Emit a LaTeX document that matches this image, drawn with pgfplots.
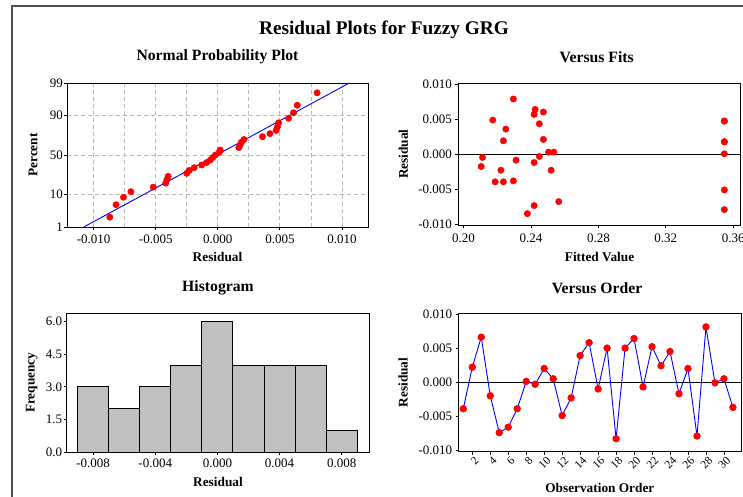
\documentclass[border=0pt]{standalone}
\usepackage{fontspec}
\setmainfont{Liberation Serif}
\usepackage{pgfplots}
\pgfplotsset{compat=1.18}
\definecolor{histgray}{HTML}{C0C0C0}
\definecolor{framegray}{HTML}{505050}
\pgfplotsset{
  resid/.style={
    scale only axis,
    anchor=south west,
    axis line style={line width=0.9pt},
    tick align=outside,
    xtick pos=bottom, ytick pos=left,
    major tick length=3pt,
    minor tick length=0pt,
    tick style={black, line width=0.8pt},
    ticklabel style={font=\fontsize{13}{15}\selectfont},
    label style={font=\bfseries\fontsize{13.3}{15}\selectfont},
    title style={font=\bfseries\fontsize{15.7}{18}\selectfont, anchor=center},
    scaled ticks=false,
    /pgf/number format/assume math mode=true,
  },
}
\tikzset{
  res3/.style={/pgf/number format/fixed, /pgf/number format/fixed zerofill, /pgf/number format/precision=3},
  res2/.style={/pgf/number format/fixed, /pgf/number format/fixed zerofill, /pgf/number format/precision=2},
  res1/.style={/pgf/number format/fixed, /pgf/number format/fixed zerofill, /pgf/number format/precision=1},
}
\begin{document}
\begin{tikzpicture}
\path[use as bounding box] (0pt,0pt) rectangle (743pt,497pt);
\fill[white] (0pt,0pt) rectangle (743pt,497pt);
\draw[framegray, line width=1.5pt] (12pt,0pt) -- (12pt,491pt) -- (743pt,491pt);
\node[font=\bfseries\fontsize{19.3}{22}\selectfont] at (384pt,467pt) {Residual Plots for Fuzzy GRG};

% ---------- Normal probability plot ----------
\begin{axis}[resid,
  at={(67pt,270pt)}, width=301pt, height=144pt,
  xmin=-0.01215, xmax=0.0121, ymin=-2.3263, ymax=2.3263,
  xtick={-0.010,-0.005,0,0.005,0.010},
  xticklabel style={res3, yshift=-1.5pt},
  minor x tick num=1,
  ytick={-2.3263,-1.2816,0,1.2816,2.3263},
  yticklabels={1,10,50,90,99},
  yticklabel style={inner xsep=1pt},
  xmajorgrids, xminorgrids, ymajorgrids,
  grid style={draw=gray!55, dash pattern=on 4pt off 3pt, line width=0.8pt},
  title={Normal Probability Plot},
  title style={at={(axis description cs:0.5,1.141)}},
  xlabel={Residual},
  xlabel style={at={(axis description cs:0.5,-0.208)}, anchor=center},
  ylabel={Percent},
  ylabel style={at={(axis description cs:-0.113,0.5)}, anchor=center},
]
\addplot[blue, line width=0.9pt] coordinates {(-0.0108,-2.3263) (0.0106,2.3263)};
\addplot[only marks, mark=*, mark size=3.2pt, mark options={draw=red, fill=red}] coordinates {
(-0.0087,-2.009) (-0.0082,-1.606) (-0.0076,-1.366) (-0.0070,-1.186) (-0.0052,-1.038)
(-0.0042,-0.909) (-0.0041,-0.795) (-0.0040,-0.690) (-0.0025,-0.592) (-0.0023,-0.499)
(-0.0019,-0.410) (-0.0013,-0.325) (-0.0009,-0.242) (-0.0006,-0.160) (-0.0004,-0.080)
(-0.0002,0.000) (0.0001,0.080) (0.0002,0.160) (0.0017,0.242) (0.0018,0.325)
(0.0019,0.410) (0.0021,0.499) (0.0036,0.592) (0.0042,0.690) (0.0047,0.795)
(0.0048,0.909) (0.0049,1.038) (0.0057,1.186) (0.0061,1.366) (0.0064,1.606)
(0.0080,2.009)};
\end{axis}

% ---------- Versus Fits ----------
\begin{axis}[resid,
  at={(458.4pt,272pt)}, width=282.3pt, height=141.7pt,
  xmin=0.197, xmax=0.3644, ymin=-0.0101, ymax=0.0102,
  xtick={0.20,0.24,0.28,0.32,0.36},
  xticklabel style={res2, yshift=-2.5pt},
  ytick={-0.010,-0.005,0,0.005,0.010},
  yticklabel style={res3},
  title={Versus Fits},
  title style={at={(axis description cs:0.49,1.145)}},
  xlabel={Fitted Value},
  xlabel style={at={(axis description cs:0.5,-0.224)}, anchor=center},
  ylabel={Residual},
  ylabel style={at={(axis description cs:-0.195,0.5)}, anchor=center},
]
\addplot[black, line width=0.8pt] coordinates {(0.197,0) (0.3644,0)};
\addplot[only marks, mark=*, mark size=3.2pt, mark options={draw=red, fill=red}] coordinates {
(0.2296,0.00795) (0.2425,0.00646) (0.2474,0.00608) (0.2419,0.00575) (0.2174,0.00493)
(0.2450,0.00440) (0.2251,0.00364) (0.2237,0.00196) (0.2474,0.00216) (0.2504,0.00034)
(0.2536,0.00034) (0.2113,-0.00042) (0.2450,-0.00028) (0.2312,-0.00081) (0.2419,-0.00115)
(0.2105,-0.00172) (0.2222,-0.00225) (0.2520,-0.00225) (0.2188,-0.00392) (0.2237,-0.00392)
(0.2296,-0.00378) (0.2565,-0.00675) (0.2419,-0.00732) (0.2379,-0.00847)
(0.3547,0.00479) (0.3547,0.00182) (0.3547,0.00010) (0.3547,-0.00507) (0.3547,-0.00789)
(0.3547,0.00182) (0.3547,0.00479)};
\end{axis}

% ---------- Histogram ----------
\begin{axis}[resid,
  at={(66.7pt,45pt)}, width=302.6pt, height=138.7pt,
  xmin=-0.0097, xmax=0.00978, ymin=0, ymax=6.39,
  xtick={-0.008,-0.004,0,0.004,0.008},
  xticklabel style={res3, yshift=-0.5pt},
  ytick={0,1.5,3.0,4.5,6.0},
  yticklabel style={res1, inner xsep=1.5pt},
  title={Histogram},
  title style={at={(axis description cs:0.5,1.139)}},
  xlabel={Residual},
  xlabel style={at={(axis description cs:0.5,-0.214)}, anchor=center},
  ylabel={Frequency},
  ylabel style={at={(axis description cs:-0.116,0.5)}, anchor=center},
]
\addplot[ybar interval, fill=histgray, draw=black, line width=0.9pt] coordinates {
(-0.009,3) (-0.007,2) (-0.005,3) (-0.003,4) (-0.001,6) (0.001,4) (0.003,4) (0.005,4) (0.007,1) (0.009,1)};
\end{axis}

% ---------- Versus Order ----------
\begin{axis}[resid,
  at={(458.7pt,45.3pt)}, width=282.3pt, height=138.4pt,
  xmin=0.49, xmax=31.9, ymin=-0.0102, ymax=0.0101,
  xtick={2,4,...,30},
  xticklabel style={font=\fontsize{11.5}{12}\selectfont, rotate=45, anchor=north east, inner sep=0pt, yshift=-2pt, xshift=0.5pt},
  ytick={-0.010,-0.005,0,0.005,0.010},
  yticklabel style={res3},
  title={Versus Order},
  title style={at={(axis description cs:0.49,1.139)}},
  xlabel={Observation Order},
  xlabel style={at={(axis description cs:0.5,-0.264)}, anchor=center},
  ylabel={Residual},
  ylabel style={at={(axis description cs:-0.197,0.5)}, anchor=center},
]
\addplot[black, line width=0.8pt] coordinates {(0.49,0) (31.9,0)};
\addplot[blue, line width=0.9pt, mark=*, mark size=3.2pt, mark options={draw=red, fill=red}] coordinates {
(1,-0.0039) (2,0.0022) (3,0.0066) (4,-0.0020) (5,-0.0074) (6,-0.0066) (7,-0.0039) (8,0.0001)
(9,-0.0003) (10,0.0020) (11,0.0005) (12,-0.0049) (13,-0.0023) (14,0.0039) (15,0.0058) (16,-0.0010)
(17,0.0050) (18,-0.0083) (19,0.0050) (20,0.0064) (21,-0.0007) (22,0.0052) (23,0.0024) (24,0.0045)
(25,-0.0017) (26,0.0020) (27,-0.0079) (28,0.0081) (29,-0.0001) (30,0.0005) (31,-0.0037)};
\end{axis}
\end{tikzpicture}
\end{document}
